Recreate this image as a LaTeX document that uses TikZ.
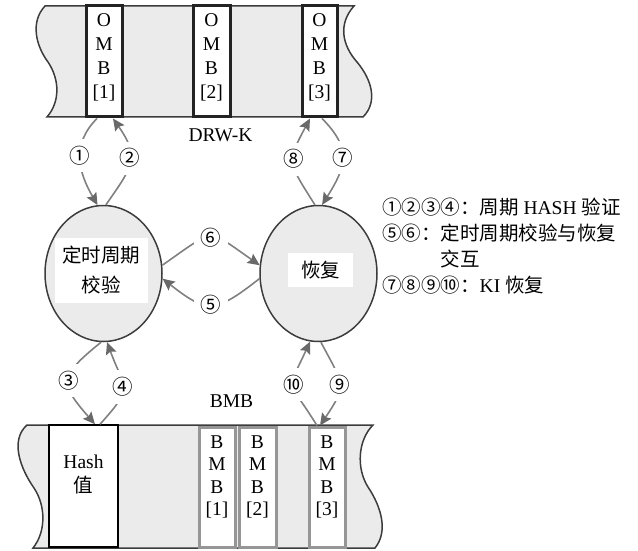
\documentclass[tikz,border=0pt]{standalone}
\usepackage{fontspec}
\setmainfont{Liberation Serif}
\newfontfamily\cjk{Noto Sans CJK SC}
\usetikzlibrary{shapes.geometric,arrows.meta}
\definecolor{bandfill}{RGB}{235,235,235}
\definecolor{edgedark}{RGB}{60,60,60}
\definecolor{ombedge}{RGB}{35,35,35}
\definecolor{arrgray}{RGB}{128,128,128}
\definecolor{headgray}{RGB}{105,105,105}
\definecolor{bmbgray}{RGB}{150,150,150}
\begin{document}
\begin{tikzpicture}[x=1pt,y=1pt,
 band/.style={draw=edgedark,line width=1.5pt,fill=bandfill},
 ombbox/.style={draw=ombedge,line width=3pt,fill=white,minimum height=111pt,inner sep=0pt},
 bmbbox/.style={draw=bmbgray,line width=3pt,fill=white,minimum height=120pt,inner sep=0pt},
 hashbox/.style={draw=black,line width=1.5pt,fill=white,minimum width=69pt,minimum height=122pt,inner sep=0pt},
 boxtext/.style={align=center,inner sep=0pt,font=\fontsize{19.5}{24}\selectfont},
 bmbtext/.style={align=center,inner sep=0pt,font=\fontsize{19.5}{22.5}\selectfont},
 proc/.style={ellipse,draw=edgedark,line width=1.5pt,fill=bandfill,minimum width=117pt,minimum height=136pt,inner sep=0pt},
 proctext/.style={fill=white,align=center,inner sep=0pt,font=\cjk\fontsize{19.5}{30}\selectfont},
 arr/.style={draw=arrgray,line width=1.6pt,-{Stealth[length=12pt,width=11pt,inset=2pt,color=headgray]}},
 lbl/.style={fill=white,inner sep=7pt,font=\cjk\fontsize{20.5}{20.5}\selectfont},
 legend/.style={anchor=base west,inner sep=0pt,font=\fontsize{19.5}{24}\selectfont},
 plain/.style={inner sep=0pt,font=\fontsize{19.5}{24}\selectfont}]
\useasboundingbox (0,0) rectangle (638,-551);

% top band
\draw[band] (45,-6) -- (354,-6) .. controls (338,-24) and (342,-45) .. (357,-62)
  .. controls (372,-80) and (378,-102) .. (363,-117) -- (47,-117)
  .. controls (60,-102) and (60,-80) .. (48,-62)
  .. controls (36,-46) and (30,-22) .. (45,-6) -- cycle;
% bottom band
\draw[band] (27,-425) -- (373,-425) .. controls (358,-440) and (356,-468) .. (368,-487)
  .. controls (382,-508) and (388,-532) .. (375,-548) -- (33,-548)
  .. controls (46,-532) and (46,-506) .. (34,-488)
  .. controls (20,-468) and (10,-440) .. (27,-425) -- cycle;

% OMB boxes
\node[ombbox,minimum width=36pt] (omb1) at (104,-61.5) {};
\node[ombbox,minimum width=37pt] (omb2) at (211.5,-61.5) {};
\node[ombbox,minimum width=35pt] (omb3) at (319.5,-61.5) {};
\node[boxtext] (omb1t) at (104,-57) {O\\M\\B\\{[1]}};
\node[boxtext] (omb2t) at (211.5,-57) {O\\M\\B\\{[2]}};
\node[boxtext] (omb3t) at (319.5,-57) {O\\M\\B\\{[3]}};
\node[plain] (drwk) at (220.5,-135) {DRW-K};

% Hash and BMB boxes
\node[hashbox] (hash) at (83.5,-486) {};
\node[boxtext] (hasht) at (83.5,-475) {Hash\\{\cjk 值}};
\node[bmbbox,minimum width=36pt] (bmb1) at (217,-487) {};
\node[bmbbox,minimum width=37pt] (bmb2) at (257.5,-487) {};
\node[bmbbox,minimum width=36pt] (bmb3) at (327,-487) {};
\node[bmbtext] (bmb1t) at (217,-477) {B\\M\\B\\{[1]}};
\node[bmbtext] (bmb2t) at (257.5,-477) {B\\M\\B\\{[2]}};
\node[bmbtext] (bmb3t) at (327,-477) {B\\M\\B\\{[3]}};
\node[plain] (bmbl) at (231.5,-401.5) {BMB};

% processes
\node[proc] (ell1) at (103.5,-273.5) {};
\node[proc] (ell2) at (318.5,-273.5) {};
\node[proctext,minimum width=93pt,minimum height=65pt] (ell1t) at (101.5,-270.5) {定时周期\\校验};
\node[proctext,minimum width=65pt,minimum height=34pt] (ell2t) at (320.5,-270) {恢复};

% arrows
\draw[arr] ([xshift=-7pt]omb1.south) to[out=225,in=120,looseness=1.1] node[lbl,pos=0.45]{①} (ell1.95);
\draw[arr] (ell1.88) to[out=55,in=-55,looseness=1.4] node[lbl,pos=0.55]{②} ([xshift=9pt]omb1.south);
\draw[arr] (ell2.93) to[out=122,in=-118,looseness=1.5] node[lbl,pos=0.55]{⑧} ([xshift=-9.5pt]omb3.south);
\draw[arr] ([xshift=2.5pt]omb3.south) to[out=-45,in=58,looseness=1.3] node[lbl,pos=0.48]{⑦} (ell2.87);
\draw[arr] (ell1.8) to[out=35,in=145,looseness=1.7] node[lbl]{⑥} (ell2.172);
\draw[arr] (ell2.185) to[out=218,in=-38,looseness=1.5] node[lbl]{⑤} (ell1.-5);
\draw[arr] (ell1.268) to[out=219,in=131,looseness=1.7] node[lbl]{③} ([xshift=11.5pt]hash.north);
\draw[arr] ([xshift=16.5pt]hash.north) to[out=48,in=-70,looseness=1.6] node[lbl]{④} (ell1.273);
\draw[arr] ([xshift=-10pt]bmb3.north) to[out=122,in=-115,looseness=1.7] node[lbl]{⑩} (ell2.263);
\draw[arr] (ell2.272) to[out=-62,in=56,looseness=1.5] node[lbl]{⑨} ([xshift=-7pt]bmb3.north);

% legend
\node[legend] (lg1) at (382,-214) {{\cjk ①②③④：周期} HASH {\cjk 验证}};
\node[legend] (lg2) at (382,-240) {\cjk ⑤⑥：定时周期校验与恢复};
\node[legend] (lg3) at (440.5,-266) {\cjk 交互};
\node[legend] (lg4) at (382,-292.5) {{\cjk ⑦⑧⑨⑩：}KI {\cjk 恢复}};
\end{tikzpicture}
\end{document}
